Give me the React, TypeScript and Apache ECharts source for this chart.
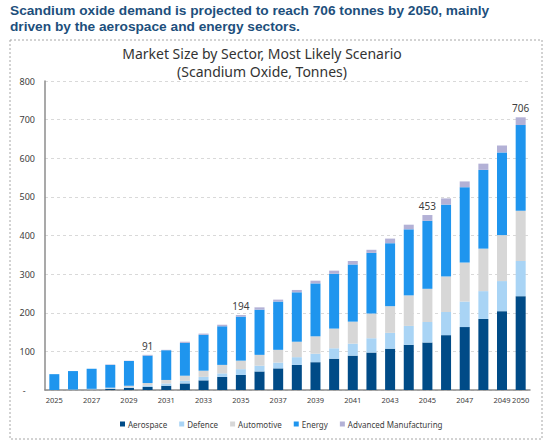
import React, { useEffect, useRef } from "react";
import * as echarts from "echarts";

// Years on the category axis
const years = [
  "2025", "2026", "2027", "2028", "2029", "2030", "2031", "2032", "2033",
  "2034", "2035", "2036", "2037", "2038", "2039", "2040", "2041", "2042",
  "2043", "2044", "2045", "2046", "2047", "2048", "2049", "2050",
];

// Scandium oxide demand by sector (tonnes)
const aerospace = [0, 0, 1, 3, 5, 8, 11, 17, 25, 34, 39, 48, 56, 65, 72, 81, 89, 97, 107, 117, 123, 142, 163, 184, 204, 243];
const defence = [0, 0, 1, 1, 2, 4, 6, 7, 9, 9, 15, 15, 15, 20, 22, 27, 31, 37, 41, 49, 53, 60, 66, 72, 78, 91];
const automotive = [0, 1, 1, 2, 4, 6, 9, 13, 16, 22, 22, 28, 33, 40, 45, 51, 57, 64, 69, 79, 86, 92, 101, 110, 119, 130];
const energy = [41, 48, 52, 59, 64, 71, 77, 85, 93, 100, 114, 117, 125, 128, 137, 142, 148, 157, 163, 171, 176, 186, 195, 204, 214, 222];
const advancedManufacturing = [0, 0, 0, 1, 1, 2, 1, 3, 3, 4, 4, 6, 5, 6, 7, 8, 9, 8, 12, 12, 15, 16, 15, 16, 18, 20];

// Years whose total is written above the stack
const labelledYears = ["2030", "2035", "2045", "2050"];

const yTicks = [0, 100, 200, 300, 400, 500, 600, 700, 800];

const FONT = "'Noto Sans', 'Open Sans', sans-serif";
const HEAD_FONT = "'Liberation Sans', Arial, sans-serif";

export default function App() {
  const ref = useRef<HTMLDivElement>(null);

  useEffect(() => {
    if (!ref.current) return;
    const chart = echarts.init(ref.current, undefined, { renderer: "svg" });

    const totals = years.map(
      (_, i) => aerospace[i] + defence[i] + automotive[i] + energy[i] + advancedManufacturing[i]
    );

    const sectors = [
      { name: "Aerospace", data: aerospace, color: "#004b87" },
      { name: "Defence", data: defence, color: "#a9d4f5" },
      { name: "Automotive", data: automotive, color: "#d7d7d7" },
      { name: "Energy", data: energy, color: "#1f95ee" },
      { name: "Advanced Manufacturing", data: advancedManufacturing, color: "#b3b1d6" },
    ];

    const series = sectors.map((s, si) => {
      const isTop = si === sectors.length - 1;
      return {
        name: s.name,
        type: "bar",
        stack: "total",
        barWidth: 10,
        itemStyle: { color: s.color },
        data: s.data.map((v, i) =>
          isTop && labelledYears.includes(years[i])
            ? {
                value: v,
                label: {
                  show: true,
                  position: "top",
                  distance: 4,
                  color: "#404040",
                  fontSize: 10,
                  fontFamily: FONT,
                  formatter: () => String(totals[i]),
                },
              }
            : v
        ),
      };
    });

    const headline = {
      fontFamily: HEAD_FONT,
      fontSize: 13.7,
      fontWeight: "bold",
      lineHeight: 15,
      color: "#1d4f7c",
    };

    chart.setOption({
      animation: false,
      backgroundColor: "#ffffff",
      title: [
        {
          text: "Scandium oxide demand is projected to reach 706 tonnes by 2050, mainly",
          left: 10,
          top: 3,
          padding: 0,
          textStyle: headline,
        },
        {
          text: "driven by the aerospace and energy sectors.",
          left: 10,
          top: 18.5,
          padding: 0,
          textStyle: headline,
        },
        {
          text: "Market Size by Sector, Most Likely Scenario\n(Scandium Oxide, Tonnes)",
          left: 262,
          top: 44,
          textAlign: "center",
          padding: 0,
          textStyle: {
            fontFamily: FONT,
            fontSize: 14,
            fontWeight: "normal",
            lineHeight: 18,
            color: "#333333",
          },
        },
      ],
      graphic: [
        {
          type: "rect",
          shape: { x: 10, y: 40, width: 532, height: 399 },
          style: { fill: "none", stroke: "#a6a6a6", lineWidth: 1, lineDash: [2, 2] },
          silent: true,
        },
      ],
      legend: {
        data: sectors.map((s) => s.name),
        left: 115,
        top: 415,
        itemWidth: 5,
        itemHeight: 5,
        itemGap: 12,
        icon: "rect",
        textStyle: { fontFamily: FONT, fontSize: 8, color: "#404040", padding: [0, 0, 0, -2] },
      },
      grid: { left: 45, right: 20, top: 81, bottom: 53 },
      xAxis: {
        type: "category",
        data: years,
        axisLine: { lineStyle: { color: "#8c8c8c", width: 1.5 } },
        axisTick: { show: false },
        axisLabel: {
          fontFamily: FONT,
          fontSize: 7.5,
          color: "#404040",
          margin: 6,
          interval: (i: number) => i % 2 === 0 || i === years.length - 1,
        },
      },
      yAxis: {
        type: "value",
        min: yTicks[0],
        max: yTicks[yTicks.length - 1],
        interval: 100,
        axisLine: { show: true, lineStyle: { color: "#8c8c8c", width: 1.5 } },
        axisTick: { show: false },
        splitLine: { lineStyle: { color: "#d9d9d9", type: [3, 3] } },
        axisLabel: {
          fontFamily: FONT,
          fontSize: 9,
          color: "#404040",
          margin: 10,
          formatter: (v: number) => (v === 0 ? "-    " : String(v)),
        },
      },
      series,
    });

    return () => chart.dispose();
  }, []);

  return (
    <div
      ref={ref}
      style={{ position: "fixed", left: 0, top: 0, width: 550, height: 443 }}
    />
  );
}
